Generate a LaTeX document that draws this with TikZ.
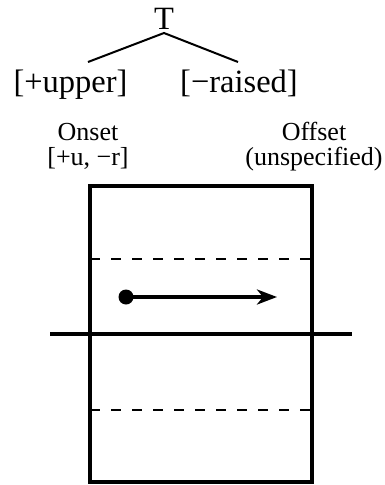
\documentclass[tikz,border=0pt]{standalone}
\usepackage{fontspec}
\setmainfont{Liberation Serif}
\usetikzlibrary{arrows.meta}
\begin{document}
\begin{tikzpicture}[x=1pt,y=-1pt,
  bigtxt/.style={inner sep=0pt,anchor=base,font=\fontsize{32.5}{38}\selectfont},
  smalltxt/.style={inner sep=0pt,anchor=base,font=\fontsize{26}{26}\selectfont},
  treeline/.style={line width=2pt},
  boxline/.style={line width=3.5pt},
  dashline/.style={line width=2pt,dash pattern=on 10pt off 11pt},
  arrowline/.style={line width=4pt,-{Stealth[length=20pt,width=15pt,inset=6pt]}}]
\useasboundingbox (0,0) rectangle (385,485);
% tree
\node[bigtxt] (T) at (164,29) {T};
\coordinate (apex) at (164,33);
\coordinate (lend) at (88,62);
\coordinate (rend) at (238,62);
\draw[treeline] (lend) -- (apex) -- (rend);
\node[bigtxt] (up) at (70.5,92) {[+upper]};
\node[bigtxt] (ra) at (239,92) {[−raised]};
% labels
\node[smalltxt] (on) at (88,140) {Onset};
\node[smalltxt] (onf) at (88,165) {[+u, −r]};
\node[smalltxt] (off) at (314,140) {Offset};
\node[smalltxt] (offf) at (314,165) {(unspecified)};
% box
\draw[boxline] (90,186) rectangle (312,482);
\draw[dashline] (90,259) -- (312,259);
\draw[dashline] (90,410) -- (312,410);
\draw[boxline] (50,334) -- (352,334);
% arrow
\coordinate (dot) at (126,297);
\coordinate (tip) at (277,297);
\fill (dot) circle (7.5pt);
\draw[arrowline] (dot) -- (tip);
\end{tikzpicture}
\end{document}
